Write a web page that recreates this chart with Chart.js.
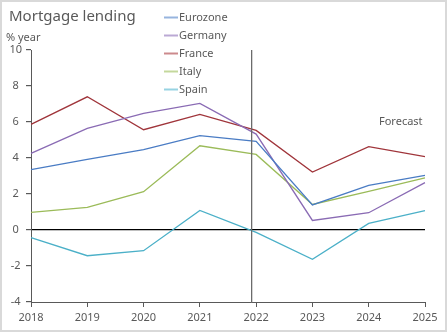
<!DOCTYPE html>
<html>
<head>
<meta charset="utf-8">
<script src="https://cdn.jsdelivr.net/npm/chart.js@4.4.0/dist/chart.umd.min.js"></script>
<style>
  html, body { margin: 0; padding: 0; background: #fff; }
  #wrap { width: 447px; height: 332px; position: relative; }
</style>
</head>
<body>
<div id="wrap"><canvas id="chart" width="447" height="332"></canvas></div>
<script>
"use strict";

// Mortgage lending, % year
const years = ["2018", "2019", "2020", "2021", "2022", "2023", "2024", "2025"];
const eurozone = [3.35, 3.92, 4.46, 5.24, 4.92, 1.39, 2.48, 3.03];
const germany  = [4.26, 5.64, 6.48, 7.03, 5.33, 0.53, 0.96, 2.63];
const france   = [5.87, 7.40, 5.57, 6.42, 5.53, 3.22, 4.63, 4.08];
const italy    = [0.98, 1.26, 2.13, 4.68, 4.20, 1.42, 2.14, 2.90];
const spain    = [-0.43, -1.43, -1.15, 1.09, -0.13, -1.63, 0.37, 1.07];
const yTicks = [-4, -2, 0, 2, 4, 6, 8, 10];
const forecastStart = 3.92; // position of the forecast divider, in category index

const FONT = "'Noto Sans', 'Open Sans', sans-serif";
const TEXT = "#595959";

function series(label, data, color, legendColor) {
    return {
        label: label,
        data: data,
        borderColor: color,
        legendColor: legendColor,
        borderWidth: 1.3,
        pointRadius: 0,
        tension: 0,
        fill: false
    };
}

// frame, title, legend, divider and forecast label
const decorations = {
    id: "decorations",
    beforeDraw(chart) {
        const ctx = chart.ctx;
        ctx.save();
        ctx.fillStyle = "#fff";
        ctx.fillRect(0, 0, chart.width, chart.height);
        ctx.strokeStyle = "#d9d9d9";
        ctx.lineWidth = 2;
        ctx.strokeRect(1, 1, chart.width - 2, chart.height - 2);
        ctx.restore();
    },
    afterDatasetsDraw(chart) {
        const ctx = chart.ctx;
        const x = chart.scales.x;
        const area = chart.chartArea;
        ctx.save();

        // forecast divider
        const px = x.getPixelForValue(forecastStart);
        ctx.strokeStyle = "#6b6b6b";
        ctx.lineWidth = 1.3;
        ctx.beginPath();
        ctx.moveTo(px, area.top);
        ctx.lineTo(px, area.bottom + 1);
        ctx.stroke();

        // title
        ctx.fillStyle = TEXT;
        ctx.textBaseline = "middle";
        ctx.textAlign = "left";
        ctx.font = "15px " + FONT;
        ctx.fillText("Mortgage lending", 9, 16.5);
        ctx.font = "11px " + FONT;
        ctx.fillText("% year", 6, 38);

        // forecast label
        ctx.fillText("Forecast", 379, 122);

        // legend
        chart.data.datasets.forEach((ds, i) => {
            const y = 17.5 + i * 18;
            ctx.strokeStyle = ds.legendColor;
            ctx.lineWidth = 2;
            ctx.beginPath();
            ctx.moveTo(164, y);
            ctx.lineTo(178, y);
            ctx.stroke();
            ctx.fillStyle = TEXT;
            ctx.fillText(ds.label, 179, y);
        });
        ctx.restore();
    }
};

new Chart(document.getElementById("chart").getContext("2d"), {
    type: "line",
    data: {
        labels: years,
        datasets: [
            series("Eurozone", eurozone, "#4a7cc4", "#97b4de"),
            series("Germany", germany, "#8a6bb4", "#bba9d4"),
            series("France", france, "#a0353b", "#cc8a8d"),
            series("Italy", italy, "#9bbb59", "#c4d89c"),
            series("Spain", spain, "#4bb0c8", "#97d3e2")
        ]
    },
    options: {
        responsive: false,
        animation: false,
        layout: { padding: { left: 0, right: 22, top: 50, bottom: 0 } },
        plugins: {
            legend: { display: false },
            tooltip: { enabled: false }
        },
        scales: {
            x: {
                type: "category",
                offset: false,
                afterFit(scale) { scale.height = 30; },
                border: { color: "#595959", width: 1 },
                grid: {
                    drawOnChartArea: false,
                    drawTicks: true,
                    tickLength: 5,
                    tickColor: "#595959"
                },
                ticks: {
                    color: TEXT,
                    font: { family: FONT, size: 11 },
                    padding: 4,
                    maxRotation: 0,
                    autoSkip: false
                }
            },
            y: {
                min: -4,
                max: 10,
                afterFit(scale) { scale.width = 31; },
                afterBuildTicks(scale) {
                    scale.ticks = yTicks.map(v => ({ value: v }));
                },
                border: { color: "#595959", width: 1 },
                grid: {
                    drawOnChartArea: true,
                    drawTicks: true,
                    tickLength: 5,
                    tickColor: "#595959",
                    color: c => (c.tick && c.tick.value === 0 ? "#000" : "rgba(0,0,0,0)"),
                    lineWidth: 1.2
                },
                ticks: {
                    color: TEXT,
                    font: { family: FONT, size: 11 },
                    padding: 4,
                    crossAlign: "center"
                }
            }
        }
    },
    plugins: [decorations]
});
</script>
</body>
</html>
